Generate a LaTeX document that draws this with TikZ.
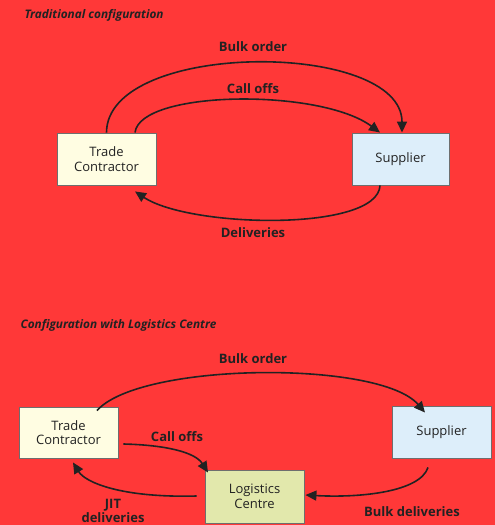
\documentclass[tikz,border=0pt]{standalone}
\usepackage{fontspec}
\setmainfont{Open Sans}
\usetikzlibrary{arrows.meta,calc}
\definecolor{bg}{RGB}{255,56,56}
\definecolor{ink}{RGB}{34,34,34}
\definecolor{tcfill}{RGB}{255,253,226}
\definecolor{supfill}{RGB}{221,238,250}
\definecolor{lcfill}{RGB}{226,232,172}
\definecolor{edge}{RGB}{110,110,110}
\begin{document}
\begin{tikzpicture}[x=1pt,y=-1pt,
  box/.style={draw=edge,line width=0.9pt,inner sep=0pt,align=center,
    font=\fontsize{13}{14.5}\selectfont,text=ink},
  flow/.style={draw=ink,line width=1.6pt,-{Triangle[length=11pt,width=10pt]}},
  lbl/.style={font=\fontsize{13}{13.5}\selectfont\bfseries,text=ink,align=center},
  heading/.style={font=\fontsize{11.8}{13}\selectfont\bfseries\itshape,text=ink,anchor=west}]
  \fill[bg] (0,0) rectangle (495,525);
  \useasboundingbox (0,0) rectangle (495,525);

  % ---- traditional configuration ----
  \node[heading] (h1) at (21,15) {Traditional configuration};
  \node[box,fill=tcfill,minimum width=99pt,minimum height=52pt] (tc1) at (106.5,159) {Trade\\Contractor};
  \node[box,fill=supfill,minimum width=97pt,minimum height=52pt] (sup1) at (400.5,159) {Supplier};

  \draw[flow] (tc1.north) .. controls (107,40) and (402,40) .. ([xshift=1.5pt]sup1.north);
  \draw[flow] ([xshift=28.5pt]tc1.north) .. controls (140,90) and (320,88) .. ([xshift=-20.5pt]sup1.north);
  \draw[flow] ([xshift=-20.5pt]sup1.south) .. controls (378,232) and (190,228) .. ([xshift=28.5pt,yshift=-6pt]tc1.south);
  \node[lbl] (lbulk1) at (253,47) {Bulk order};
  \node[lbl] (lcall1) at (253,89) {Call offs};
  \node[lbl] (ldel1) at (253,233) {Deliveries};

  % ---- configuration with logistics centre ----
  \node[heading] (h2) at (17,325) {Configuration with Logistics Centre};
  \node[box,fill=tcfill,minimum width=99pt,minimum height=51pt] (tc2) at (68.5,432.5) {Trade\\Contractor};
  \node[box,fill=supfill,minimum width=99pt,minimum height=52pt] (sup2) at (441.5,432) {Supplier};
  \node[box,fill=lcfill,minimum width=99pt,minimum height=53pt] (lc) at (254.5,496.5) {Logistics\\Centre};

  \draw[flow] ([xshift=28.5pt,yshift=-4pt]tc2.north) .. controls (140,362) and (380,360) .. ([xshift=-16.5pt,yshift=-7pt]sup2.north);
  \draw[flow] ([xshift=5pt,yshift=-11.5pt]tc2.east) .. controls (165,445) and (195,452) .. ([xshift=-46.5pt,yshift=-3pt]lc.north);
  \draw[flow] ([xshift=-8pt,yshift=0.5pt]lc.west) .. controls (120,498) and (85,482) .. ([xshift=4.5pt,yshift=-4pt]tc2.south);
  \draw[flow] ([xshift=-13.5pt,yshift=-9pt]sup2.south) .. controls (420,492) and (360,498) .. ([xshift=1pt,yshift=1.5pt]lc.east);
  \node[lbl] (lbulk2) at (253,359) {Bulk order};
  \node[lbl] (lcall2) at (177,437) {Call offs};
  \node[lbl,font=\fontsize{13}{14}\selectfont\bfseries] (ljit) at (113,511) {JIT\\deliveries};
  \node[lbl] (lbd) at (412,512) {Bulk deliveries};
\end{tikzpicture}
\end{document}
